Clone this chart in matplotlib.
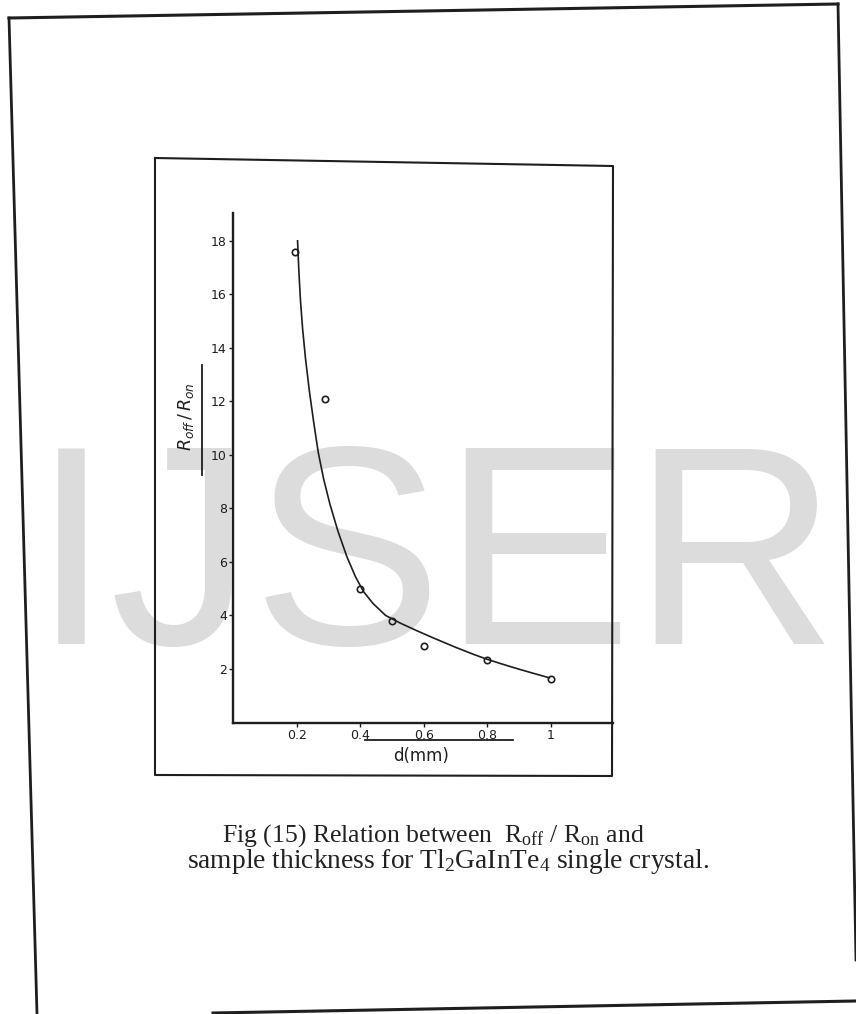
import numpy as np
import matplotlib
matplotlib.use('Agg')
import matplotlib.pyplot as plt

plt.rcParams['mathtext.fontset'] = 'custom'
plt.rcParams['mathtext.rm'] = 'Liberation Serif'
plt.rcParams['mathtext.it'] = 'Liberation Serif:italic'

# measured points (d in mm, Roff/Ron)
d_points = [0.195, 0.29, 0.40, 0.50, 0.60, 0.80, 1.00]
ratio_points = [17.6, 12.1, 5.0, 3.8, 2.85, 2.35, 1.62]

# hand-drawn fit curve
d_curve = [0.203, 0.207, 0.212, 0.219, 0.228, 0.240, 0.254, 0.268, 0.285,
           0.305, 0.330, 0.358, 0.385, 0.410, 0.440, 0.480, 0.525, 0.580,
           0.630, 0.700, 0.760, 0.800, 0.850, 0.900, 0.950, 0.995]
ratio_curve = [18.0, 16.9, 15.8, 14.7, 13.6, 12.4, 11.2, 10.1, 9.1,
               8.15, 7.15, 6.2, 5.45, 4.9, 4.45, 4.0, 3.72, 3.42,
               3.16, 2.81, 2.53, 2.36, 2.17, 1.99, 1.82, 1.67]

xticks = [0.2, 0.4, 0.6, 0.8, 1.0]
xtick_labels = ['0.2', '0.4', '0.6', '0.8', '1']
yticks = [2, 4, 6, 8, 10, 12, 14, 16, 18]

W, H = 856, 1014
ink = '#1e1e1e'
fig = plt.figure(figsize=(W / 100, H / 100), dpi=100)

# page background (frame, watermark, caption) in pixel coords
bg = fig.add_axes([0, 0, 1, 1])
bg.set_xlim(0, W)
bg.set_ylim(H, 0)
bg.axis('off')

# outer (slightly skewed) page frame
bg.plot([9, 838], [18, 4], color=ink, lw=2.2)
bg.plot([9, 37], [18, 1014], color=ink, lw=2.0)
bg.plot([838, 856], [4, 960], color=ink, lw=2.0)
bg.plot([213, 856], [1013, 1001], color=ink, lw=2.2)

# inner box round the graph
bg.plot([155, 613, 612, 155, 155], [158, 166, 776, 775, 158], color=ink, lw=1.5)

# watermark
bg.text(32, 644, 'IJSER', fontsize=205, family='Liberation Sans',
        color='#dcdcdc', ha='left', va='baseline', zorder=0)

# axis labels with the bar above them
bg.plot([202, 202], [365, 475], color=ink, lw=1.3)
bg.text(186, 417, r'$R_{off}\,/\,R_{on}$', rotation=90, ha='center', va='center',
        fontsize=12.5, color=ink, math_fontfamily='dejavusans')
bg.plot([365, 513], [740, 740], color=ink, lw=1.3)
bg.text(421, 756, 'd(mm)', ha='center', va='center', fontsize=12,
        family='DejaVu Sans', color=ink)

# caption
bg.text(222, 842, r'Fig (15) Relation between  R$_{\mathrm{off}}$ / R$_{\mathrm{on}}$ and',
        ha='left', va='baseline', fontsize=18.5, family='Liberation Serif', color='#222222')
bg.text(187, 868, r'sample thickness for Tl$_{\mathrm{2}}$GaInTe$_{\mathrm{4}}$ single crystal.',
        ha='left', va='baseline', fontsize=19.8, family='Liberation Serif', color='#222222')

# the graph itself
left, right, top, bottom = 233, 613, 212.7, 722.5
ax = fig.add_axes([left / W, 1 - bottom / H, (right - left) / W, (bottom - top) / H])
ax.patch.set_alpha(0)
ax.plot(d_curve, ratio_curve, color=ink, lw=1.2)
ax.plot(d_points, ratio_points, 'o', mfc='none', mec=ink, ms=4.6, mew=1.2)
ax.set_xlim(0, 1.195)
ax.set_ylim(0, 19.05)
ax.spines['top'].set_visible(False)
ax.spines['right'].set_visible(False)
for s in ['left', 'bottom']:
    ax.spines[s].set_linewidth(1.7)
    ax.spines[s].set_color(ink)
ax.set_xticks(xticks)
ax.set_xticklabels(xtick_labels)
ax.set_yticks(yticks)
ax.tick_params(direction='out', length=3, width=1, colors=ink, labelsize=9, pad=1.5)

fig.savefig('out.png', dpi=100)
